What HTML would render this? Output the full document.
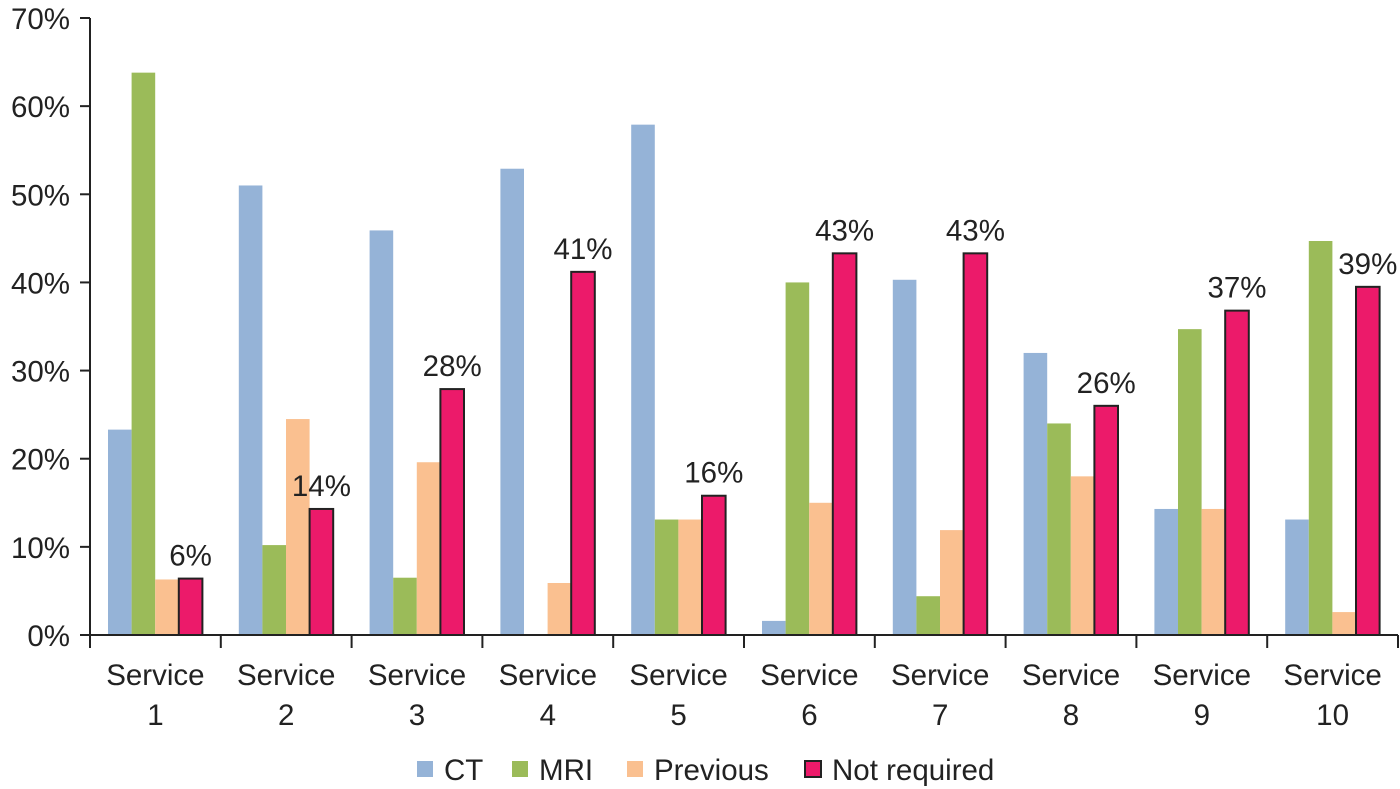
<!DOCTYPE html>
<html><head><meta charset="utf-8"><style>
body{margin:0;background:#fff;}
svg{display:block;font-family:"Liberation Sans","DejaVu Sans",sans-serif;}
</style></head><body>
<svg id="chart" width="1400" height="789" viewBox="0 0 1400 789"></svg>
<script>
const categories=["1","2","3","4","5","6","7","8","9","10"];
const ctValues=[23.3,51,45.9,52.9,57.9,1.6,40.3,32,14.3,13.1];
const mriValues=[63.8,10.2,6.5,0,13.1,40,4.4,24,34.7,44.7];
const previousValues=[6.3,24.5,19.6,5.9,13.1,15,11.9,18,14.3,2.6];
const notRequiredValues=[6.4,14.3,27.9,41.2,15.8,43.3,43.3,26,36.8,39.5];
const notRequiredLabels=["6%","14%","28%","41%","16%","43%","43%","26%","37%","39%"];
const yTicks=[0,10,20,30,40,50,60,70];
const seriesNames=["CT","MRI","Previous","Not required"];
const seriesColors=["#95b3d7","#9bbb59","#fac090","#ec1a6a"];

const NS="http://www.w3.org/2000/svg";
const svg=document.getElementById('chart');
const x0=90,cw=130.8,y0=635,yTop=18,ymax=70;
const y=v=>y0-(v/ymax)*(y0-yTop);
const bw=23.6,off=18,fs=29.5;
function el(t,a,txt){const e=document.createElementNS(NS,t);for(const k in a)e.setAttribute(k,a[k]);if(txt!==undefined)e.textContent=txt;svg.appendChild(e);return e;}
yTicks.forEach(t=>{
  const l=el('line',{x1:80,x2:90,y1:y(t),y2:y(t),stroke:'#222','stroke-width':2});
  
  
  const tx=el('text',{x:70,y:y(t)+11,'text-anchor':'end','font-size':fs,fill:'#222'},t+'%');
  
  
});
const all=[ctValues,mriValues,previousValues,notRequiredValues];
categories.forEach((c,i)=>{
  const gx=x0+i*cw;
  all.forEach((arr,s)=>{
    const v=arr[i];
    const bx=gx+off+s*bw;
    const r=el('rect',{x:bx,y:y(v),width:bw,height:y0-y(v),fill:seriesColors[s]});
    if(s===3){r.setAttribute('stroke','#222');r.setAttribute('stroke-width',2);}
    
    
  });
  const lx=gx+off+3.5*bw;
  const lab=el('text',{x:lx,y:y(notRequiredValues[i])-13,'text-anchor':'middle','font-size':fs,fill:'#222'},notRequiredLabels[i]);
  
  
  const t1=el('text',{x:gx+cw/2,y:685,'text-anchor':'middle','font-size':fs,fill:'#222'},'Service');
  
  
  const t2=el('text',{x:gx+cw/2,y:725,'text-anchor':'middle','font-size':fs,fill:'#222'},c);
  
  
});
for(let i=0;i<=10;i++){
  const t=el('line',{x1:x0+i*cw,x2:x0+i*cw,y1:y0,y2:648,stroke:'#222','stroke-width':2});
  
  
}
const ya=el('line',{x1:x0,x2:x0,y1:yTop,y2:y0,stroke:'#222','stroke-width':2});


const xa=el('line',{x1:x0,x2:1398,y1:y0,y2:y0,stroke:'#222','stroke-width':2});


const lxs=[417,512,627,805];
seriesNames.forEach((n,s)=>{
  const r=el('rect',{x:lxs[s],y:761,width:16,height:16,fill:seriesColors[s]});
  if(s===3){r.setAttribute('stroke','#222');r.setAttribute('stroke-width',2);}
  
  
  const t=el('text',{x:lxs[s]+27,y:780,'font-size':fs,fill:'#222'},n);
  
  
});
</script>
</body></html>
